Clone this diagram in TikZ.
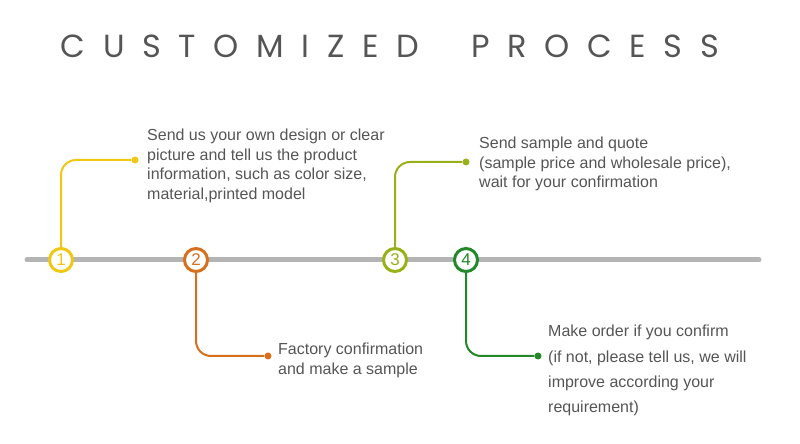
\documentclass[tikz,border=0pt]{standalone}
\usepackage{fontspec}
\setmainfont{Liberation Sans}
\newfontfamily\titlefont[LetterSpace=55]{Poppins}
\usepackage{xcolor}
\usepackage{tikz}
\usetikzlibrary{positioning}

\definecolor{stepone}{RGB}{240,200,20}
\definecolor{steptwo}{RGB}{214,112,28}
\definecolor{stepthree}{RGB}{150,178,24}
\definecolor{stepfour}{RGB}{34,136,40}
\definecolor{railgray}{RGB}{180,180,180}
\definecolor{textgray}{RGB}{85,85,85}

\tikzset{
  stepcircle/.style={circle, draw=#1, line width=3pt, fill=white, text=#1,
    minimum size=23pt, inner sep=0pt, font=\fontsize{17}{17}\selectfont},
  leader/.style={draw=#1, line width=2pt, rounded corners=15pt},
  pindot/.style={circle, fill=#1, minimum size=7pt, inner sep=0pt},
  note/.style={align=left, anchor=north west, inner sep=0pt, text=textgray,
    font=\fontsize{16}{19.5}\selectfont},
}

\begin{document}
\begin{tikzpicture}[x=1pt, y=1pt]
        \useasboundingbox (0,0) rectangle (800,444);

        \node[text=textgray, font=\titlefont\fontsize{32}{32}\selectfont] (title) at (390,398) {CUSTOMIZED\hspace{53pt}PROCESS};

        % the rail
        \coordinate (railstart) at (27,184);
        \coordinate (railend) at (759,184);
        \draw[railgray, line width=5pt, line cap=round] (railstart) -- (railend);

        \node[stepcircle=stepone]   (s1) at (61,184) {1};
        \node[stepcircle=steptwo]   (s2) at (196,184) {2};
        \node[stepcircle=stepthree] (s3) at (395,184) {3};
        \node[stepcircle=stepfour]  (s4) at (466,184) {4};

        \node[pindot=stepone]   (d1) at (135,284) {};
        \node[pindot=steptwo]   (d2) at (268,88) {};
        \node[pindot=stepthree] (d3) at (466,282) {};
        \node[pindot=stepfour]  (d4) at (538,88) {};

        \draw[leader=stepone]   (s1) |- (d1);
        \draw[leader=steptwo]   (s2) |- (d2);
        \draw[leader=stepthree] (s3) |- (d3);
        \draw[leader=stepfour]  (s4) |- (d4);

        \node[note] (t1) at (147,315) {Send us your own design or clear\\picture and tell us the product\\information, such as color size,\\material,printed model};
        \node[note] (t3) at (479,307) {Send sample and quote\\(sample price and wholesale price),\\wait for your confirmation};
        \node[note] (t2) at (278,101) {Factory confirmation\\and make a sample};
        \node[note, font=\fontsize{16}{25.3}\selectfont] (t4) at (548,119) {Make order if you confirm\\(if not, please tell us, we will\\improve according your\\requirement)};
    \end{tikzpicture}
\end{document}
